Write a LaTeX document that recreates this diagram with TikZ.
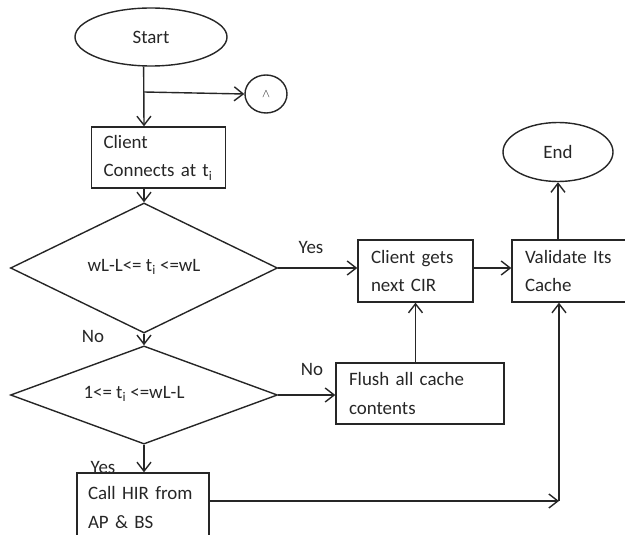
\documentclass[tikz,border=0pt]{standalone}
\usepackage{fontspec}
\setmainfont{Carlito}
\usetikzlibrary{shapes.geometric,arrows.meta}
\begin{document}
\begin{tikzpicture}[x=1bp,y=-1bp,
  line width=1.4bp, draw=black!85,
  every node/.style={font=\fontsize{19}{29}\selectfont, text=black!85},
  term/.style={draw, ellipse, inner sep=0pt},
  procbox/.style={draw, rectangle, inner xsep=13bp, inner ysep=0pt, align=left},
  decide/.style={draw, diamond, inner sep=0pt, minimum width=267bp, minimum height=96bp},
  lbl/.style={inner sep=0pt},
  arr/.style={-{Straight Barb[length=9bp,width=14bp]}}]
\clip (0,0) rectangle (625,535);

% main column through the left-hand blocks
\coordinate (col) at (144,0);

% terminals and connector circle
\node[term, minimum width=152bp, minimum height=58bp] (start) at (151,37) {Start};
\node[term, minimum width=42bp, minimum height=38bp] (conn) at (266,94)
  {\raisebox{-3bp}{\fontsize{13}{13}\selectfont$\wedge$}};
\node[term, minimum width=110bp, minimum height=59bp] (end) at (558,152) {End};

% process blocks
\node[procbox, minimum width=133bp, minimum height=61bp, text width=110bp, inner xsep=12bp] (cli) at (158.5,157.5)
  {Client\\Connects at t\textsubscript{i}};
\node[procbox, minimum width=115bp, minimum height=62bp, text width=89bp] (cir) at (415.5,271)
  {Client gets\\next CIR};
\node[procbox, minimum width=128bp, minimum height=62bp, text width=102bp] (val) at (576,271)
  {Validate Its\\Cache};
\node[procbox, minimum width=168bp, minimum height=61bp, text width=142bp] (flush) at (420,393.5)
  {Flush all cache\\contents};
\node[procbox, minimum width=132bp, minimum height=69bp, text width=110bp, inner xsep=11bp] (hir) at (143,507.5)
  {Call HIR from\\AP \& BS};

% decisions
\node[decide] (d1) at (144,268) {\raisebox{5bp}{wL-L<= t\textsubscript{i} <=wL}};
\node[decide] (d2) at (144,395) {\hspace*{-20bp}\raisebox{5bp}{1<= t\textsubscript{i} <=wL-L}};

% branch labels
\node[lbl] at (311,247) {Yes};
\node[lbl] at (93,336) {No};
\node[lbl] at (312,369) {No};
\node[lbl] at (103,467) {Yes};

% connectors
\coordinate (br) at (col |- 0,92);
\coordinate (j) at (559,501);
\draw[arr] (start.256) -- (cli.north -| col);
\draw[arr] (br) -- (conn.west);
\draw[arr] (cli.south -| col) -- (d1.north);
\draw[arr] (d1.south) -- (d2.north);
\draw[arr] (d2.south) -- (hir.north -| col);
\draw[arr] (d1.east) -- (cir.west |- d1.east);
\draw[arr] (cir.east |- d1.east) -- (val.west |- d1.east);
\draw[arr] (d2.east) -- (flush.west |- d2.east);
\draw[arr] (cir.south |- flush.north) -- (cir.south);
\draw[arr] (end.south |- val.north) -- (end.south);
\draw[arr] (hir.east |- j) -- (j);
\draw[arr] (j) -- (j |- val.south);
\end{tikzpicture}
\end{document}
